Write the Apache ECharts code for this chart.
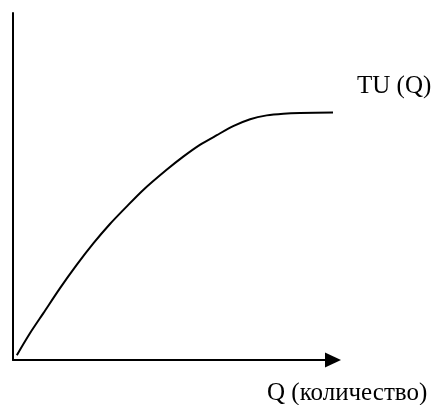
<!DOCTYPE html>
<html>
<head>
<meta charset="utf-8">
<script src="https://cdn.jsdelivr.net/npm/echarts@6/dist/echarts.min.js"></script>
<style>
  html, body { margin: 0; padding: 0; background: #fff; }
  #chart { width: 442px; height: 405px; }
</style>
</head>
<body>
<div id="chart"></div>
<script>
// Данные кривой общей полезности TU(Q)
var qValues = [0.12, 0.53, 0.95, 1.47, 1.99, 2.51, 3.03, 3.55, 4.07, 4.80,
               5.32, 5.84, 6.37, 6.88, 7.41, 7.93, 8.45, 8.97, 10.0];
var tuValues = [0.14, 0.77, 1.35, 2.07, 2.74, 3.36, 3.92, 4.42, 4.90, 5.48,
                5.86, 6.20, 6.48, 6.74, 6.94, 7.05, 7.10, 7.12, 7.13];
var curveName = 'TU (Q)';
var xAxisName = 'Q (количество)';

var chart = echarts.init(document.getElementById('chart'));

var points = qValues.map(function (q, i) {
  return [q, tuValues[i]];
});

var textStyle = {
  fontSize: 25,
  fontFamily: '"Liberation Serif", serif',
  fill: '#000',
  verticalAlign: 'middle'
};

var option = {
  animation: false,
  grid: {
    left: 13,
    right: 109,
    top: 13,
    bottom: 45
  },
  xAxis: {
    type: 'value',
    min: 0,
    max: 10,
    axisLine: {
      show: true,
      symbol: ['none', 'triangle'],
      symbolSize: [15, 16],
      lineStyle: { color: '#000', width: 2 }
    },
    axisTick: { show: false },
    axisLabel: { show: false },
    splitLine: { show: false }
  },
  yAxis: {
    type: 'value',
    min: 0,
    max: 10,
    axisLine: {
      show: true,
      lineStyle: { color: '#000', width: 2 }
    },
    axisTick: { show: false },
    axisLabel: { show: false },
    splitLine: { show: false }
  },
  series: [
    {
      name: curveName,
      type: 'line',
      data: points,
      smooth: 0.25,
      symbol: 'none',
      lineStyle: { color: '#000', width: 2, join: 'round' }
    }
  ],
  graphic: [
    {
      type: 'text',
      style: Object.assign({ x: 357, y: 86.5, text: curveName }, textStyle)
    },
    {
      type: 'text',
      style: Object.assign({ x: 267, y: 393.5, text: xAxisName }, textStyle)
    }
  ]
};

chart.setOption(option);
</script>
</body>
</html>
